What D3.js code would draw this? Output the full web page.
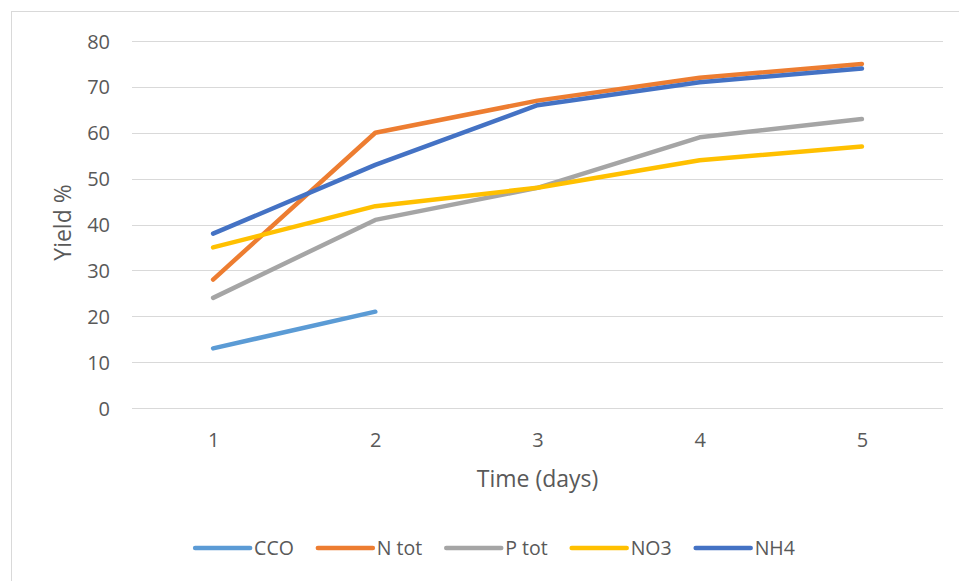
<!DOCTYPE html>
<html>
<head>
<meta charset="utf-8">
<script src="https://cdn.jsdelivr.net/npm/d3@7/dist/d3.min.js"></script>
<style>
  html, body { margin: 0; padding: 0; background: #fff; }
  svg { display: block; }
  text { font-family: "Open Sans", "Noto Sans", sans-serif; fill: #595959; }
</style>
</head>
<body>
<svg id="chart" width="959" height="581"></svg>
<script>
// Days sampled
const days = [1, 2, 3, 4, 5];

// Yield (%) per parameter
const seriesNames = ["CCO", "N tot", "P tot", "NO3", "NH4"];
const cco  = [13, 21, null, null, null];
const ntot = [28, 60, 67, 72, 75];
const ptot = [24, 41, 48, 59, 63];
const no3  = [35, 44, 48, 54, 57];
const nh4  = [38, 53, 66, 71, 74];
const seriesColors = ["#5b9bd5", "#ed7d31", "#a5a5a5", "#ffc000", "#4472c4"];

const yTicks = [0, 10, 20, 30, 40, 50, 60, 70, 80];

const series = [cco, ntot, ptot, no3, nh4].map((vals, i) => ({
  name: seriesNames[i],
  color: seriesColors[i],
  points: days.map((d, j) => ({ day: d, value: vals[j] }))
}));

const svg = d3.select("#chart");

// Outer chart frame
svg.append("rect")
  .attr("x", 11.5).attr("y", 11.5)
  .attr("width", 1000).attr("height", 700)
  .attr("fill", "none").attr("stroke", "#d9d9d9").attr("stroke-width", 1);

const plot = { left: 132, right: 943, top: 41, bottom: 408 };

const x = d3.scalePoint().domain(days).range([plot.left, plot.right]).padding(0.5);
const y = d3.scaleLinear().domain([0, 80]).range([plot.bottom, plot.top]);

// Horizontal gridlines
svg.append("g")
  .selectAll("line")
  .data(yTicks)
  .join("line")
  .attr("x1", plot.left).attr("x2", plot.right)
  .attr("y1", d => Math.round(y(d)) + 0.5).attr("y2", d => Math.round(y(d)) + 0.5)
  .attr("stroke", "#d9d9d9").attr("stroke-width", 1);

// Y axis labels
const yAxis = svg.append("g")
  .attr("transform", `translate(${plot.left - 22},0)`)
  .call(d3.axisLeft(y).tickValues(yTicks).tickSize(0).tickPadding(0));
yAxis.select(".domain").remove();
yAxis.selectAll("text")
  .attr("font-size", 20).attr("fill", "#595959")
  .style("font-family", "'Open Sans', sans-serif")
  .attr("dy", "0.35em");

// X axis labels
const xAxis = svg.append("g")
  .attr("transform", `translate(0,${plot.bottom})`)
  .call(d3.axisBottom(x).tickSize(0).tickPadding(0));
xAxis.select(".domain").remove();
xAxis.selectAll("text")
  .attr("font-size", 20).attr("fill", "#595959")
  .style("font-family", "'Open Sans', sans-serif")
  .attr("y", 32).attr("dy", "0.35em");

// Axis titles
svg.append("text")
  .attr("x", (plot.left + plot.right) / 2).attr("y", 479)
  .attr("text-anchor", "middle").attr("dy", "0.35em")
  .attr("font-size", 23)
  .text("Time (days)");

svg.append("text")
  .attr("transform", `translate(63,${(plot.top + plot.bottom) / 2 - 2}) rotate(-90)`)
  .attr("text-anchor", "middle").attr("dy", "0.35em")
  .attr("font-size", 23)
  .text("Yield %");

// Series lines
const line = d3.line()
  .defined(d => d.value != null)
  .x(d => x(d.day))
  .y(d => y(d.value));

svg.append("g")
  .selectAll("path")
  .data(series)
  .join("path")
  .attr("d", d => line(d.points))
  .attr("fill", "none")
  .attr("stroke", d => d.color)
  .attr("stroke-width", 4.5)
  .attr("stroke-linecap", "round")
  .attr("stroke-linejoin", "round");

// Legend
const legend = svg.append("g");
const swatch = 55, swGap = 4, itemGap = 24;
let cx = 0;
series.forEach(s => {
  const g = legend.append("g").attr("transform", `translate(${cx},0)`);
  g.append("line")
    .attr("x1", 0).attr("x2", swatch)
    .attr("y1", 0).attr("y2", 0)
    .attr("stroke", s.color).attr("stroke-width", 4.5)
    .attr("stroke-linecap", "round");
  const t = g.append("text")
    .attr("x", swatch + swGap).attr("y", 0).attr("dy", "0.35em")
    .attr("font-size", 19.5)
    .text(s.name);
  cx += swatch + swGap + t.node().getComputedTextLength() + itemGap;
});
const legendWidth = cx - itemGap;
legend.attr("transform", `translate(${495 - legendWidth / 2},548)`);
</script>
</body>
</html>
